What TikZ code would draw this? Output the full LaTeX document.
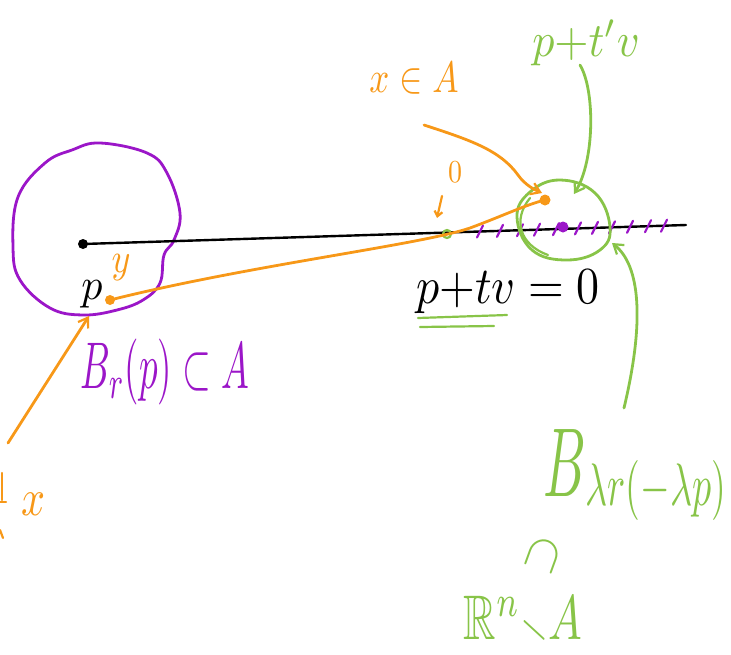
\documentclass[tikz,border=0pt]{standalone}
\usepackage{amssymb}
\usetikzlibrary{arrows.meta}
\definecolor{pur}{RGB}{155,22,200}
\definecolor{org}{RGB}{247,152,24}
\definecolor{grn}{RGB}{136,196,72}
\begin{document}
\begin{tikzpicture}[x=1pt,y=-1pt,
  pen/.style={line width=2.8pt,line cap=round,line join=round},
  thin pen/.style={line width=2.2pt,line cap=round,line join=round},
  barb/.style={-{Straight Barb[length=9pt,width=12pt,line width=2.2pt]}},
  lbl/.style 2 args={inner sep=0pt,xscale=#1,yscale=#2}]
\useasboundingbox (0,0) rectangle (731,654);

% purple ball B_r(p)
\draw[pur,pen] plot[smooth cycle,tension=0.65] coordinates {(100,143) (147,153) (167,173) (180,213) (174,240) (164,255) (160,283) (143,300) (117,310) (83,315) (50,308) (20,280) (13,247) (18,197) (45,163) (72,150)};

% points
\coordinate (c) at (83,244);
\coordinate (e) at (686,225);
\coordinate (o) at (447,234);
\coordinate (q) at (563,227);
\coordinate (yd) at (110,300);
\coordinate (xd) at (545,200);

% black line
\draw[black,line width=2.4pt,line cap=round] (c) -- (e);
\fill[black] (c) circle (5pt);

% purple hatching along the ray
\foreach \x in {480,500,520,537,556,578,595,612,630,648,664}{
  \draw[pur,thin pen] ({\x-3},{244-(\x-83)*0.0315+6}) -- ({\x+3},{244-(\x-83)*0.0315-6});
}
\fill[pur] (q) circle (5.5pt);

% green circle B_{lambda r}(-lambda p)
\draw[grn,pen] plot[smooth cycle,tension=0.7] coordinates {(560,180) (595,193) (610,227) (600,250) (567,260) (532,250) (517,217) (530,192)};
\draw[grn,thin pen] (530,198) .. controls (512,220) and (520,245) .. (548,255);
\draw[grn,thin pen] (o) circle (4pt);

% orange segment from y to x
\draw[org,pen] (yd) .. controls (250,265) and (420,245) .. (470,228) .. controls (505,215) and (525,205) .. (xd);
\fill[org] (yd) circle (5pt);
\fill[org] (xd) circle (5.5pt);

% labels
\node[lbl={4.2}{4.4}] (pl) at (92,294) {$p$};
\node[lbl={3.6}{4.2},text=org] (yl) at (121,268) {$y$};
\node[lbl={3.7}{6.6},text=pur] (bl) at (165,372) {$B_r(p)\subset A$};
\node[lbl={3.5}{4.4},text=org] (xa) at (414,78) {$x\in A$};
\node[lbl={4.4}{4.8},text=grn] (pt) at (586,43) {$p{+}t'v$};
\node[lbl={4.6}{5.2}] (eq) at (508,292) {$p{+}tv=0$};
\node[lbl={2.8}{3.2},text=org] (zl) at (455,172) {$0$};
\node[lbl={4.2}{5.2},text=org] (xl) at (34,504) {$x$};
\node[lbl={5.3}{9.8},text=grn] (bb) at (565,463) {$B$};
\node[lbl={3.8}{6},text=grn] (bs) at (656,490) {$\lambda r(-\lambda p)$};
\node[lbl={5}{5},text=grn,rotate=70] (sub) at (543,555) {$\supset$};
\node[lbl={4.5}{6.3},text=grn] (rn) at (523,620) {$\mathbb{R}^n{\scriptstyle\smallsetminus}A$};

% underline of the equation
\draw[grn,thin pen] (418,318) -- (507,315);
\draw[grn,thin pen] (420,327) -- (494,326);

% pointer arrows
\coordinate (xs) at (424,125);
\draw[org,pen,barb] (xs) .. controls (470,140) and (500,150) .. (518,175) .. controls (525,185) and (535,190) .. (542,193);
\coordinate (zs) at (442,196);
\coordinate (ze) at (437,218);
\draw[org,thin pen,-{Straight Barb[length=5pt,width=8pt]}] (zs) -- (ze);
\coordinate (as) at (8,443);
\coordinate (ae) at (89,316);
\draw[org,pen,barb] (as) -- (ae);
\coordinate (gs) at (580,65);
\draw[grn,pen,barb] (gs) .. controls (595,90) and (595,160) .. (574,194);
\coordinate (hs) at (624,408);
\draw[grn,pen,barb] (hs) .. controls (645,320) and (640,265) .. (612,243);

% cut-off strokes at left edge
\draw[org,thin pen] (2,473) -- (2,500);
\draw[org,thin pen] (0,502) -- (6,502);
\draw[org,thin pen] (0,530) -- (3,538);
\end{tikzpicture}
\end{document}
